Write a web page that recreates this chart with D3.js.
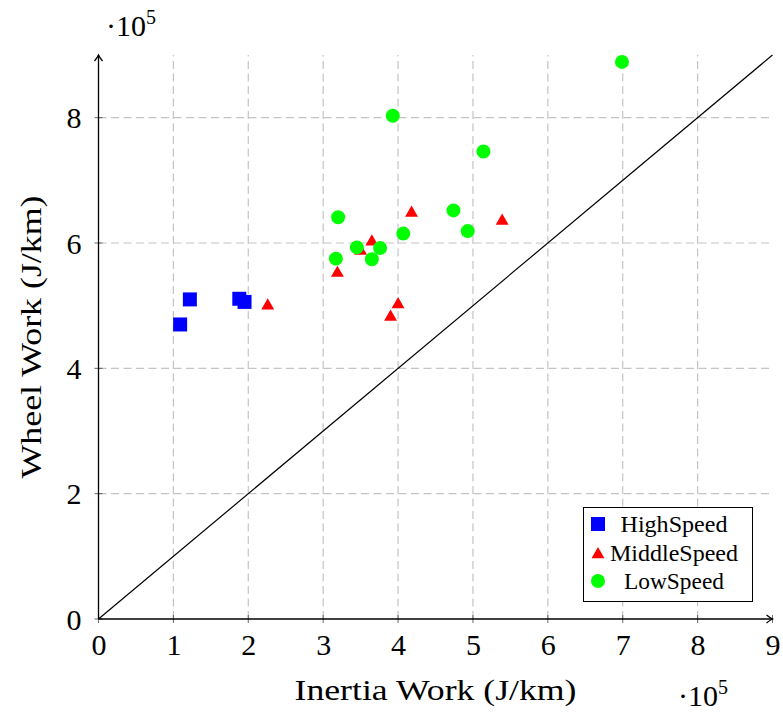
<!DOCTYPE html>
<html>
<head>
<meta charset="utf-8">
<script src="https://cdn.jsdelivr.net/npm/d3@7"></script>
<style>
  html, body { margin: 0; padding: 0; background: #fff; }
  svg text { font-family: "Liberation Serif", "Times New Roman", serif; fill: #000; }
</style>
</head>
<body>
<svg id="chart" width="783" height="712"></svg>
<script>
// Work per km, in units of 1e5 J/km: [inertia work, wheel work]
const highSpeed = [
  [1.09, 4.70], [1.22, 5.10], [1.88, 5.11], [1.95, 5.06]
];
const middleSpeed = [
  [2.26, 5.00], [3.19, 5.52], [3.50, 5.87], [3.65, 6.02],
  [4.18, 6.48], [5.39, 6.35], [4.00, 5.02], [3.90, 4.82]
];
const lowSpeed = [
  [3.20, 6.41], [3.45, 5.93], [3.17, 5.75], [3.65, 5.74],
  [3.76, 5.92], [4.07, 6.15], [4.74, 6.52], [4.93, 6.19],
  [3.93, 8.03], [5.14, 7.46], [6.99, 8.89]
];
const seriesNames = ["HighSpeed", "MiddleSpeed", "LowSpeed"];
const seriesColors = ["#0000ff", "#ff0000", "#00ff00"];
const xTicks = [0, 1, 2, 3, 4, 5, 6, 7, 8, 9];
const yTicks = [0, 2, 4, 6, 8];
const xDomain = [0, 9];
const yDomain = [0, 9];
const xLabel = "Inertia Work (J/km)";
const yLabel = "Wheel Work (J/km)";

const svg = d3.select("#chart");
const plotLeft = 98.5, plotRight = 772.5, plotTop = 55, plotBottom = 619;

const x = d3.scaleLinear().domain(xDomain).range([plotLeft, plotRight]);
const y = d3.scaleLinear().domain(yDomain).range([plotBottom, plotTop]);

// dashed grid
const grid = svg.append("g")
  .attr("stroke", "#c4c4c4").attr("stroke-width", 1.2)
  .attr("stroke-dasharray", "8,4.5").attr("fill", "none");
grid.selectAll("line.v").data(xTicks.filter(t => t > 0 && t < 9)).join("line")
  .attr("class", "v")
  .attr("x1", d => x(d)).attr("x2", d => x(d))
  .attr("y1", y(yDomain[0])).attr("y2", y(yDomain[1]));
grid.selectAll("line.h").data(yTicks.filter(t => t > 0)).join("line")
  .attr("class", "h")
  .attr("y1", d => y(d)).attr("y2", d => y(d))
  .attr("x1", x(xDomain[0])).attr("x2", x(xDomain[1]));

// reference line y = x
svg.append("line")
  .attr("x1", x(0)).attr("y1", y(0)).attr("x2", x(9)).attr("y2", y(9))
  .attr("stroke", "#000").attr("stroke-width", 1.2);

// axes
const xAxis = d3.axisBottom(x).tickValues(xTicks).tickSize(0).tickPadding(22)
  .tickFormat(d3.format("d"));
const yAxis = d3.axisLeft(y).tickValues(yTicks).tickSize(0).tickPadding(18)
  .tickFormat(d3.format("d"));

const gx = svg.append("g").attr("transform", `translate(0,${plotBottom})`).call(xAxis);
const gy = svg.append("g").attr("transform", `translate(${plotLeft},0)`).call(yAxis);
[gx, gy].forEach(g => {
  g.select(".domain").remove();
  g.attr("font-family", null);
  g.selectAll("text").attr("font-size", 30).attr("fill", "#000");
});
gx.selectAll("text").attr("dy", "0.71em").attr("y", 15);
gy.selectAll("text").attr("dy", "0.34em").attr("x", -17);

// small tick marks crossing the axis lines
svg.append("g").selectAll("line").data(xTicks).join("line")
  .attr("x1", d => x(d)).attr("x2", d => x(d))
  .attr("y1", plotBottom - 4).attr("y2", plotBottom + 4)
  .attr("stroke", "#444").attr("stroke-width", 0.8);
svg.append("g").selectAll("line").data(yTicks).join("line")
  .attr("y1", d => y(d)).attr("y2", d => y(d))
  .attr("x1", plotLeft - 4).attr("x2", plotLeft + 4)
  .attr("stroke", "#444").attr("stroke-width", 0.8);

svg.append("line")
  .attr("x1", plotLeft).attr("x2", plotRight).attr("y1", plotBottom).attr("y2", plotBottom)
  .attr("stroke", "#000").attr("stroke-width", 1.3);
svg.append("line")
  .attr("x1", plotLeft).attr("x2", plotLeft).attr("y1", plotBottom).attr("y2", plotTop)
  .attr("stroke", "#000").attr("stroke-width", 1.3);

// arrow tips
const arrow = "M-6,-4 Q-2,-0.8 0,0 Q-2,0.8 -6,4";
svg.append("path").attr("d", arrow)
  .attr("transform", `translate(${plotRight},${plotBottom})`)
  .attr("fill", "none").attr("stroke", "#000").attr("stroke-width", 1.3);
svg.append("path").attr("d", arrow)
  .attr("transform", `translate(${plotLeft},${plotTop}) rotate(-90)`)
  .attr("fill", "none").attr("stroke", "#000").attr("stroke-width", 1.3);

// axis titles
svg.append("text").attr("x", (plotLeft + plotRight) / 2).attr("y", 700)
  .attr("text-anchor", "middle").attr("font-size", 30)
  .attr("textLength", 282).attr("lengthAdjust", "spacingAndGlyphs")
  .text(xLabel);
svg.append("text")
  .attr("transform", `translate(41,${(plotTop + plotBottom) / 2}) rotate(-90)`)
  .attr("text-anchor", "middle").attr("font-size", 30)
  .attr("textLength", 283).attr("lengthAdjust", "spacingAndGlyphs")
  .text(yLabel);

// scale multipliers
function multiplier(px, py) {
  const t = svg.append("text").attr("x", px).attr("y", py).attr("font-size", 30);
  t.append("tspan").text("\u00b710");
  t.append("tspan").attr("font-size", 20).attr("dy", -12).text("5");
}
multiplier(106, 36);
multiplier(678, 706);

// markers
const markerShapes = [
  d3.symbol().type(d3.symbolSquare).size(196),
  d3.symbol().type(d3.symbolTriangle).size(72),
  d3.symbol().type(d3.symbolCircle).size(154)
];
[highSpeed, middleSpeed, lowSpeed].forEach((pts, i) => {
  svg.append("g").selectAll("path").data(pts).join("path")
    .attr("d", markerShapes[i])
    .attr("transform", d => `translate(${x(d[0])},${y(d[1])})`)
    .attr("fill", seriesColors[i]);
});

// legend
const legend = svg.append("g");
legend.append("rect").attr("x", 583.5).attr("y", 507.5).attr("width", 169).attr("height", 94)
  .attr("fill", "#fff").attr("stroke", "#000").attr("stroke-width", 1);
const rowY = [524, 553, 581];
const legendTextWidths = [107, 128, 100];
seriesNames.forEach((name, i) => {
  legend.append("path").attr("d", markerShapes[i])
    .attr("transform", `translate(598,${rowY[i] + (i === 1 ? 1.5 : 0)})`)
    .attr("fill", seriesColors[i]);
  legend.append("text").attr("x", 674).attr("y", rowY[i] + 8)
    .attr("text-anchor", "middle").attr("font-size", 23)
    .attr("textLength", legendTextWidths[i]).attr("lengthAdjust", "spacingAndGlyphs")
    .text(name);
});
</script>
</body>
</html>
